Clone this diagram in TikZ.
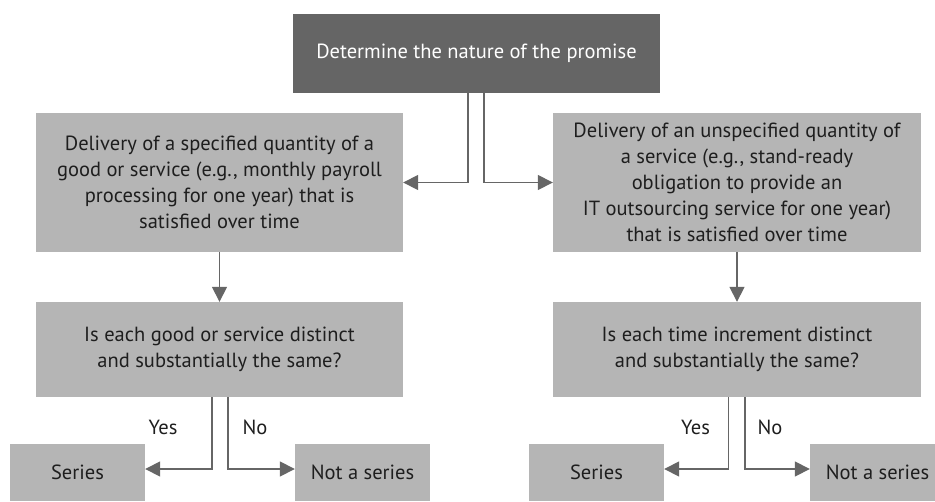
\documentclass[tikz,border=0pt]{standalone}
\usepackage{fontspec}
\setmainfont{PT Sans}
\usetikzlibrary{arrows.meta,calc}
\definecolor{darkbox}{HTML}{656565}
\definecolor{lightbox}{HTML}{B5B5B5}
\definecolor{linec}{HTML}{666666}
\definecolor{txt}{HTML}{1E1E1E}
\begin{document}
\begin{tikzpicture}[x=1pt,y=-1pt,
  box/.style={fill=lightbox,draw=none,inner sep=0pt,align=center,text=txt,
    font=\fontsize{20.5}{26}\selectfont},
  conn/.style={draw=linec,line width=1.6pt,-{Triangle[length=15pt,width=15pt]}},
  lab/.style={text=txt,font=\fontsize{20.5}{26}\selectfont,inner sep=0pt}]
\useasboundingbox (0,0) rectangle (935,501);
\node[box,fill=darkbox,text=white,minimum width=367pt,minimum height=79pt] (top) at (476.5,53.5) {Determine the nature of the promise};
\node[box,minimum width=367pt,minimum height=139pt] (L1) at (219.5,182.5) {Delivery of a specified quantity of a\\good or service (e.g., monthly payroll\\processing for one year) that is\\satisfied over time};
\node[box,minimum width=368pt,minimum height=139pt] (R1) at (737,182.5) {Delivery of an unspecified quantity of\\a service (e.g., stand-ready\\obligation to provide an\\IT outsourcing service for one year)\\that is satisfied over time};
\node[box,minimum width=367pt,minimum height=95pt] (L2) at (219.5,349.5) {Is each good or service distinct\\and substantially the same?};
\node[box,minimum width=368pt,minimum height=95pt] (R2) at (737,349.5) {Is each time increment distinct\\and substantially the same?};
\node[box,minimum width=135pt,minimum height=57pt] (LS) at (77.5,472.5) {Series};
\node[box,minimum width=135pt,minimum height=57pt] (LN) at (362.5,472.5) {Not a series};
\node[box,minimum width=135pt,minimum height=57pt] (RS) at (596.5,472.5) {Series};
\node[box,minimum width=135pt,minimum height=57pt] (RN) at (877.5,472.5) {Not a series};
\node[lab] (y1) at (163,427) {Yes};
\node[lab] (n1) at (255,427) {No};
\node[lab] (y2) at (695.5,427) {Yes};
\node[lab] (n2) at (770,427) {No};
\draw[conn] ($(top.south)+(-8.5,0)$) |- (L1.east);
\draw[conn] ($(top.south)+(7.5,0)$) |- (R1.west);
\draw[conn] (L1.south) -- (L2.north);
\draw[conn] (R1.south) -- (R2.north);
\draw[conn] ($(L2.south)+(-7.5,0)$) |- ([yshift=3.5pt]LS.east);
\draw[conn] ($(L2.south)+(8.5,0)$) |- ([yshift=3.5pt]LN.west);
\draw[conn] ($(R2.south)+(-8.5,0)$) |- ([yshift=3.5pt]RS.east);
\draw[conn] ($(R2.south)+(8,0)$) |- ([yshift=3.5pt]RN.west);
\end{tikzpicture}
\end{document}
